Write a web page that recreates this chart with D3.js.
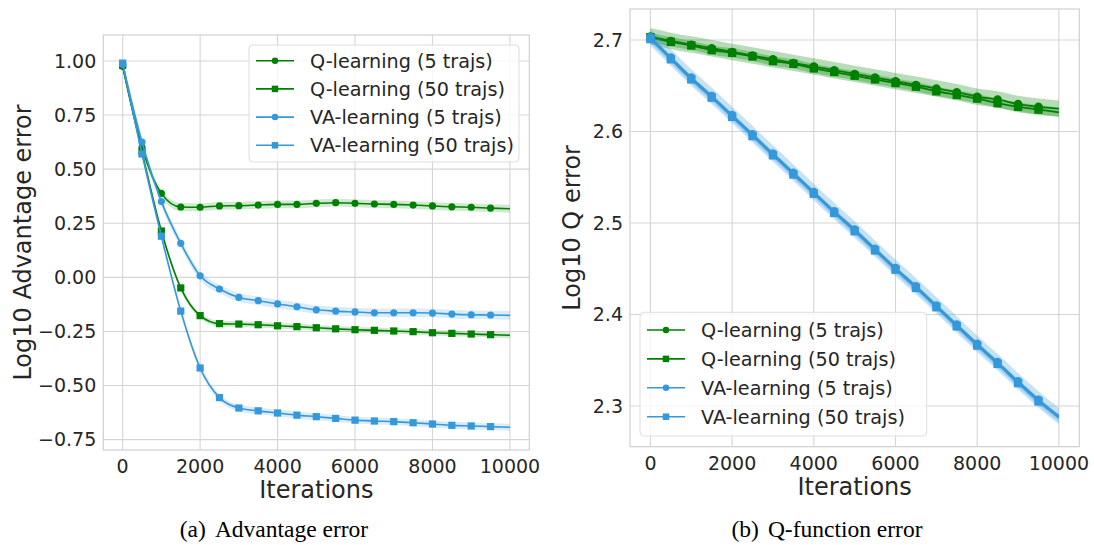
<!DOCTYPE html>
<html>
<head>
<meta charset="utf-8">
<script src="https://cdn.jsdelivr.net/npm/d3@7"></script>
<style>
    body { margin: 0; background: #ffffff; }
    svg { display: block; font-family: "DejaVu Sans", sans-serif; }
    .grid line { stroke: #d5d5d5; stroke-width: 1.1; }
    .tick-label { fill: #262626; font-size: 19px; }
    .axis-label { fill: #262626; font-size: 24px; }
    .legend-text { fill: #262626; font-size: 19.2px; }
    .caption { fill: #000000; font-family: "Liberation Serif", "Times New Roman", serif; font-size: 23.5px; }
</style>
</head>
<body>
<svg id="chart" width="1094" height="545"></svg>
<script>

// iterations at which the curves were sampled (markers every 500, last point has no marker)
const ITERATIONS = [0, 500, 1000, 1500, 2000, 2500, 3000, 3500, 4000, 4500, 5000,
    5500, 6000, 6500, 7000, 7500, 8000, 8500, 9000, 9500, 10000];

const SERIES_NAMES = ["Q-learning (5 trajs)", "Q-learning (50 trajs)",
    "VA-learning (5 trajs)", "VA-learning (50 trajs)"];

const X_TICKS = [0, 2000, 4000, 6000, 8000, 10000];

// (a) Advantage error
const ADV_Q5 = [0.975, 0.600, 0.388, 0.325, 0.324, 0.330, 0.331, 0.334, 0.337, 0.337, 0.342,
    0.345, 0.342, 0.339, 0.337, 0.334, 0.330, 0.326, 0.324, 0.320, 0.317];
const ADV_Q50 = [0.980, 0.580, 0.214, -0.049, -0.177, -0.214, -0.216, -0.219, -0.224, -0.228, -0.233,
    -0.238, -0.242, -0.245, -0.248, -0.251, -0.256, -0.259, -0.262, -0.265, -0.268];
const ADV_VA5 = [0.985, 0.625, 0.350, 0.157, 0.007, -0.054, -0.093, -0.108, -0.123, -0.136, -0.150,
    -0.156, -0.160, -0.164, -0.164, -0.164, -0.165, -0.170, -0.173, -0.174, -0.176];
const ADV_VA50 = [0.990, 0.570, 0.190, -0.156, -0.419, -0.556, -0.604, -0.617, -0.627, -0.637, -0.644,
    -0.652, -0.660, -0.664, -0.667, -0.672, -0.678, -0.684, -0.687, -0.690, -0.693];
const ADV_SPREAD = [0.018, 0.013, 0.020, 0.016];
const ADV_Y_TICKS = [-0.75, -0.5, -0.25, 0, 0.25, 0.5, 0.75, 1.0];

// (b) Q-function error
const Q_Q5 = [2.704, 2.699, 2.695, 2.691, 2.687, 2.683, 2.679, 2.675, 2.671, 2.667, 2.663,
    2.659, 2.655, 2.651, 2.647, 2.643, 2.638, 2.635, 2.630, 2.627, 2.625];
const Q_Q50 = [2.703, 2.698, 2.694, 2.689, 2.686, 2.682, 2.677, 2.674, 2.669, 2.665, 2.661,
    2.657, 2.653, 2.649, 2.644, 2.640, 2.636, 2.631, 2.627, 2.624, 2.621];
const Q_VA5 = [2.703, 2.681, 2.659, 2.639, 2.618, 2.597, 2.576, 2.555, 2.534, 2.513, 2.493,
    2.472, 2.451, 2.431, 2.410, 2.389, 2.368, 2.348, 2.327, 2.307, 2.289];
const Q_VA50 = [2.701, 2.679, 2.657, 2.637, 2.616, 2.595, 2.574, 2.553, 2.532, 2.511, 2.491,
    2.470, 2.449, 2.429, 2.408, 2.387, 2.366, 2.346, 2.325, 2.305, 2.287];
const Q_SPREAD = [0.009, 0.005, 0.009, 0.004];
const Q_Y_TICKS = [2.3, 2.4, 2.5, 2.6, 2.7];


const GREEN = "#008000";
const BLUE = "#3498db";

class ErrorPanel {

    constructor(svg, config) {
        this.svg = svg;
        this.config = config;
        this.initVis();
    }

    initVis() {
        let vis = this;
        let c = vis.config;

        vis.g = vis.svg.append("g");

        vis.x = d3.scaleLinear().domain([-500, 10500]).range([c.left, c.right]);
        vis.y = d3.scaleLinear().domain(c.yDomain).range([c.bottom, c.top]);

        // grid
        let grid = vis.g.append("g").attr("class", "grid");
        grid.selectAll(".gx").data(X_TICKS).join("line")
            .attr("x1", d => vis.x(d)).attr("x2", d => vis.x(d))
            .attr("y1", c.top).attr("y2", c.bottom);
        grid.selectAll(".gy").data(c.yTicks).join("line")
            .attr("y1", d => vis.y(d)).attr("y2", d => vis.y(d))
            .attr("x1", c.left).attr("x2", c.right);

        // frame
        vis.g.append("rect")
            .attr("x", c.left).attr("y", c.top)
            .attr("width", c.right - c.left).attr("height", c.bottom - c.top)
            .attr("fill", "none").attr("stroke", "#d0d0d0").attr("stroke-width", 1.2);

        // tick labels
        vis.g.selectAll(".xt").data(X_TICKS).join("text")
            .attr("class", "tick-label")
            .attr("x", d => vis.x(d)).attr("y", c.bottom + 23)
            .attr("text-anchor", "middle")
            .text(d3.format("d"));
        vis.g.selectAll(".yt").data(c.yTicks).join("text")
            .attr("class", "tick-label")
            .attr("x", c.left - 7).attr("y", d => vis.y(d))
            .attr("dy", "0.36em")
            .attr("text-anchor", "end")
            .text(d3.format(c.yFormat));

        // axis labels
        vis.g.append("text")
            .attr("class", "axis-label")
            .attr("x", (c.left + c.right) / 2).attr("y", c.bottom + 48)
            .attr("text-anchor", "middle")
            .text("Iterations");
        vis.g.append("text")
            .attr("class", "axis-label")
            .attr("transform", `translate(${c.yLabelX}, ${(c.top + c.bottom) / 2}) rotate(-90)`)
            .attr("text-anchor", "middle")
            .text(c.yLabel);

        // caption
        let cap = vis.g.append("text")
            .attr("class", "caption")
            .attr("x", c.captionX).attr("y", 537)
            .attr("text-anchor", "middle");
        cap.append("tspan").text(c.captionTag);
        cap.append("tspan").attr("dx", 9).text(c.captionText);

        vis.updateVis();
        vis.drawLegend();
    }

    updateVis() {
        let vis = this;
        let c = vis.config;

        c.series.forEach((s, i) => {
            let points = ITERATIONS.map((it, k) => ({ iter: it, value: s.values[k] }));

            let area = d3.area()
                .x(d => vis.x(d.iter))
                .y0(d => vis.y(d.value - s.spread))
                .y1(d => vis.y(d.value + s.spread))
                .curve(d3.curveMonotoneX);

            let line = d3.line()
                .x(d => vis.x(d.iter))
                .y(d => vis.y(d.value))
                .curve(d3.curveMonotoneX);

            vis.g.append("path")
                .datum(points)
                .attr("d", area)
                .attr("fill", s.color)
                .attr("fill-opacity", c.bandOpacity);

            vis.g.append("path")
                .datum(points)
                .attr("d", line)
                .attr("fill", "none")
                .attr("stroke", s.color)
                .attr("stroke-width", c.lineWidth);

            let marks = points.filter(d => d.iter <= 9500);
            vis.drawMarkers(vis.g, marks.map(d => [vis.x(d.iter), vis.y(d.value)]), s, c.markerSize);
        });
    }

    drawMarkers(g, xy, s, size) {
        if (s.marker === "circle") {
            g.selectAll(null).data(xy).join("circle")
                .attr("cx", d => d[0]).attr("cy", d => d[1])
                .attr("r", size / 2)
                .attr("fill", s.color);
        } else {
            g.selectAll(null).data(xy).join("rect")
                .attr("x", d => d[0] - size / 2).attr("y", d => d[1] - size / 2)
                .attr("width", size).attr("height", size)
                .attr("fill", s.color);
        }
    }

    drawLegend() {
        let vis = this;
        let L = vis.config.legend;

        let lg = vis.g.append("g");
        lg.append("rect")
            .attr("x", L.x).attr("y", L.y)
            .attr("width", L.w).attr("height", L.h)
            .attr("rx", 4)
            .attr("fill", "#ffffff").attr("fill-opacity", 0.8)
            .attr("stroke", "#dddddd").attr("stroke-width", 1);

        vis.config.series.forEach((s, i) => {
            let cy = L.y + L.firstRow + i * L.rowStep;
            lg.append("line")
                .attr("x1", L.x + 7).attr("x2", L.x + 45)
                .attr("y1", cy).attr("y2", cy)
                .attr("stroke", s.color).attr("stroke-width", 1.6);
            vis.drawMarkers(lg, [[L.x + 26, cy]], s, 6.5);
            lg.append("text")
                .attr("class", "legend-text")
                .attr("x", L.x + 61).attr("y", cy)
                .attr("dy", "0.36em")
                .text(SERIES_NAMES[i]);
        });
    }
}

function makeSeries(values, spread) {
    let colors = [GREEN, GREEN, BLUE, BLUE];
    let markers = ["circle", "square", "circle", "square"];
    return values.map((v, i) => ({ values: v, spread: spread[i], color: colors[i], marker: markers[i] }));
}

let svg = d3.select("#chart");

new ErrorPanel(svg, {
    left: 103.3, right: 529.3, top: 35, bottom: 450,
    yDomain: [-0.798, 1.12],
    yTicks: ADV_Y_TICKS,
    yFormat: ".2f",
    yLabel: "Log10 Advantage error",
    yLabelX: 31,
    captionX: 274,
    captionTag: "(a)",
    captionText: "Advantage error",
    bandOpacity: 0.18,
    lineWidth: 1.6,
    markerSize: 7.2,
    series: makeSeries([ADV_Q5, ADV_Q50, ADV_VA5, ADV_VA50], ADV_SPREAD),
    legend: { x: 249, y: 45, w: 270, h: 117, firstRow: 15.7, rowStep: 28.2 }
});

new ErrorPanel(svg, {
    left: 630, right: 1079.3, top: 9, bottom: 446.7,
    yDomain: [2.2555, 2.7339],
    yTicks: Q_Y_TICKS,
    yFormat: ".1f",
    yLabel: "Log10 Q error",
    yLabelX: 580,
    captionX: 827,
    captionTag: "(b)",
    captionText: "Q-function error",
    bandOpacity: 0.28,
    lineWidth: 1.8,
    markerSize: 8.4,
    series: makeSeries([Q_Q5, Q_Q50, Q_VA5, Q_VA50], Q_SPREAD),
    legend: { x: 640, y: 312.3, w: 286.7, h: 123.7, firstRow: 17.7, rowStep: 28.9 }
});

</script>
</body>
</html>
